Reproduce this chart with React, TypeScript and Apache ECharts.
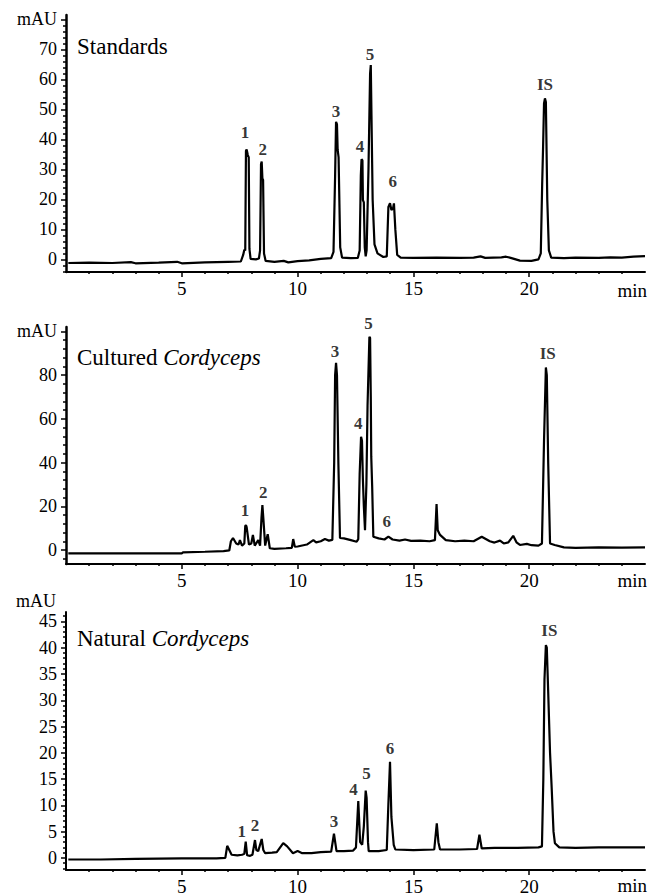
import React, { useEffect, useRef } from "react";
import * as echarts from "echarts";

// ---------- data ----------
const xMajorTicks = [5, 10, 15, 20];
const xMinorTicks = [1, 2, 3, 4, 6, 7, 8, 9, 11, 12, 13, 14, 16, 17, 18, 19, 21, 22, 23, 24];

const panelTitles = ["Standards", "Cultured", "Natural"];
const panelTitleItalic = ["", "Cordyceps", "Cordyceps"];

const stdYTicks = [0, 10, 20, 30, 40, 50, 60, 70, 80];
const stdYMinor = [-4, -2, 2, 4, 6, 8, 12, 14, 16, 18, 22, 24, 26, 28, 32, 34, 36, 38, 42, 44, 46, 48, 52, 54, 56, 58, 62, 64, 66, 68, 72, 74, 76, 78];
const culYTicks = [0, 20, 40, 60, 80, 100];
const culYMinor = [-4, 4, 8, 12, 16, 24, 28, 32, 36, 44, 48, 52, 56, 64, 68, 72, 76, 84, 88, 92, 96];
const natYTicks = [0, 5, 10, 15, 20, 25, 30, 35, 40, 45];
const natYMinor = [-2, -1, 1, 2, 3, 4, 6, 7, 8, 9, 11, 12, 13, 14, 16, 17, 18, 19, 21, 22, 23, 24, 26, 27, 28, 29, 31, 32, 33, 34, 36, 37, 38, 39, 41, 42, 43, 44, 46];

const stdTrace = [
  [0.1, -1.2], [1.0, -1.1], [2.0, -1.2], [2.8, -0.9], [3.0, -1.3], [4.0, -1.1], [4.8, -0.8], [5.0, -1.3],
  [6.0, -1.0], [7.0, -0.8], [7.55, -0.7], [7.65, 1.5], [7.7, 3.2], [7.74, 3.0], [7.77, 36.2], [7.8, 36.7],
  [7.85, 34.8], [7.89, 34.0], [7.92, 3.5], [7.97, 0.2], [8.2, 0.0], [8.33, 0.3], [8.38, 3.0], [8.42, 31.8],
  [8.45, 32.6], [8.48, 27.0], [8.51, 26.5], [8.55, 2.0], [8.62, -0.5], [9.0, -0.8], [9.4, -0.5], [9.6, -1.0],
  [10.0, -0.6], [10.5, -0.3], [11.0, 0.2], [11.45, 0.4], [11.55, 2.5], [11.62, 28.0], [11.66, 45.9], [11.7, 45.0],
  [11.73, 36.5], [11.77, 34.0], [11.84, 4.0], [11.92, 0.6], [12.3, 0.4], [12.6, 0.5], [12.68, 3.0], [12.73, 28.0],
  [12.76, 33.4], [12.8, 33.0], [12.82, 19.8], [12.86, 19.0], [12.9, 4.0], [12.94, 1.0], [12.98, 3.0], [13.06, 30.0],
  [13.13, 62.0], [13.16, 64.8], [13.19, 48.0], [13.24, 20.0], [13.32, 5.0], [13.45, 2.0], [13.7, 0.8], [13.85, 1.0],
  [13.92, 17.5], [13.99, 18.7], [14.05, 16.5], [14.12, 17.0], [14.16, 18.7], [14.22, 10.0], [14.3, 1.5], [14.45, 0.6],
  [15.0, 0.5], [16.0, 0.6], [17.0, 0.5], [17.6, 0.6], [17.9, 1.0], [18.1, 0.5], [18.8, 0.7], [19.0, 0.9],
  [19.2, 0.5], [19.6, -0.4], [20.1, -0.5], [20.4, 0.0], [20.5, 2.0], [20.56, 25.0], [20.6, 37.6], [20.64, 52.0],
  [20.68, 53.7], [20.72, 52.5], [20.78, 20.0], [20.85, 3.0], [20.95, 0.6], [21.5, 0.4], [22.0, 0.6], [23.0, 0.5],
  [23.5, 0.7], [24.0, 0.6], [24.5, 0.9], [25.0, 1.1],
];

const culTrace = [
  [0.1, -1.5], [1.5, -1.5], [3.0, -1.5], [5.0, -1.5], [5.05, -1.1], [6.0, -0.8], [6.8, -0.5], [7.05, -0.2],
  [7.12, 4.0], [7.21, 5.5], [7.35, 3.0], [7.45, 2.5], [7.51, 4.5], [7.6, 2.0], [7.7, 3.0], [7.74, 11.0],
  [7.77, 11.4], [7.8, 10.5], [7.9, 2.5], [8.0, 3.0], [8.07, 6.9], [8.15, 2.0], [8.3, 4.5], [8.38, 2.0],
  [8.44, 14.6], [8.48, 20.6], [8.52, 14.6], [8.6, 2.0], [8.66, 5.0], [8.71, 7.2], [8.8, 0.8], [9.0, 0.5],
  [9.5, 0.8], [9.75, 1.0], [9.81, 5.0], [9.88, 1.5], [10.0, 1.6], [10.4, 2.5], [10.68, 4.5], [10.8, 3.5],
  [11.0, 4.0], [11.18, 5.0], [11.35, 4.3], [11.5, 4.6], [11.58, 40.0], [11.62, 80.0], [11.66, 85.6], [11.7, 80.0],
  [11.76, 40.0], [11.83, 5.5], [12.0, 5.3], [12.3, 4.5], [12.55, 3.8], [12.62, 5.0], [12.68, 35.0], [12.74, 51.8],
  [12.78, 50.0], [12.82, 32.0], [12.86, 20.0], [12.91, 9.1], [12.97, 30.0], [13.02, 66.0], [13.1, 97.5], [13.13, 97.0],
  [13.16, 70.0], [13.18, 42.7], [13.22, 29.0], [13.27, 6.1], [13.5, 5.3], [13.75, 4.8], [13.92, 6.1], [14.1, 4.8],
  [14.4, 4.3], [14.64, 4.8], [14.9, 4.2], [15.3, 4.3], [15.7, 4.0], [15.93, 4.5], [16.0, 21.0], [16.05, 9.0],
  [16.15, 6.9], [16.4, 4.5], [16.8, 4.0], [17.2, 4.3], [17.6, 4.0], [17.95, 6.1], [18.3, 4.0], [18.5, 3.4],
  [18.74, 4.3], [18.9, 3.0], [19.1, 3.5], [19.31, 6.5], [19.45, 3.5], [19.6, 2.3], [19.9, 2.8], [20.1, 2.2],
  [20.4, 2.0], [20.55, 3.0], [20.64, 50.0], [20.72, 83.5], [20.76, 80.0], [20.82, 40.0], [20.9, 3.0], [21.1, 2.3],
  [21.5, 1.2], [22.0, 1.0], [23.0, 1.2], [24.0, 1.1], [25.0, 1.2],
];

const natTrace = [
  [0.1, -0.3], [1.5, -0.3], [3.0, -0.2], [5.0, -0.1], [6.5, -0.1], [6.88, 0.0], [6.96, 2.3], [7.05, 1.5],
  [7.15, 0.6], [7.4, 0.5], [7.6, 0.6], [7.7, 0.8], [7.76, 3.1], [7.82, 0.5], [7.95, 0.4], [8.05, 0.6],
  [8.16, 3.4], [8.22, 1.5], [8.3, 1.3], [8.45, 3.6], [8.52, 1.5], [8.6, 0.9], [8.9, 1.0], [9.1, 1.1],
  [9.38, 2.8], [9.55, 2.2], [9.8, 0.9], [10.0, 1.3], [10.2, 0.9], [10.6, 0.9], [11.0, 1.1], [11.45, 1.2],
  [11.57, 4.6], [11.68, 1.3], [12.0, 1.3], [12.4, 1.4], [12.52, 2.0], [12.62, 10.8], [12.7, 3.0], [12.79, 2.5],
  [12.86, 6.0], [12.94, 12.8], [12.98, 11.4], [13.04, 3.0], [13.07, 1.3], [13.5, 1.3], [13.85, 1.5], [13.92, 10.3],
  [13.99, 18.3], [14.05, 7.8], [14.15, 2.5], [14.22, 1.6], [15.0, 1.5], [15.9, 1.6], [16.01, 6.6], [16.08, 3.0],
  [16.15, 1.6], [17.0, 1.6], [17.75, 1.7], [17.85, 4.4], [17.95, 1.8], [18.5, 1.9], [19.5, 1.9], [20.4, 2.0],
  [20.55, 2.2], [20.61, 15.0], [20.66, 34.0], [20.72, 40.5], [20.76, 40.0], [20.82, 31.6], [20.9, 20.0], [20.97, 13.4],
  [21.05, 5.0], [21.11, 2.8], [21.3, 2.0], [22.0, 1.9], [23.0, 2.0], [24.0, 2.0], [25.0, 2.0],
];

const peakNames = ["1", "2", "3", "4", "5", "6", "IS"];
const stdLabelT = [7.73, 8.49, 11.66, 12.69, 13.13, 14.11, 20.68];
const stdLabelV = [42.2, 36.8, 49.3, 37.6, 68.2, 25.9, 58.2];
const culLabelT = [7.73, 8.52, 11.61, 12.62, 13.06, 13.85, 20.8];
const culLabelV = [18.0, 26.2, 90.7, 57.9, 103.6, 12.9, 89.9];
const natLabelT = [7.59, 8.16, 11.57, 12.41, 12.98, 13.99, 20.87];
const natLabelV = [5.0, 6.1, 6.9, 13.1, 16.1, 20.8, 43.2];

// ---------- layout ----------
const FONT = "Liberation Serif";
const GRID_LEFT = 66;
const GRID_RIGHT = 5;
const panels = [
  { top: 15, height: 257, min: -4.2, max: 81.5, ticks: stdYTicks, minor: stdYMinor, mauValue: 80, trace: stdTrace, lt: stdLabelT, lv: stdLabelV, axisW: 2.5, titleY: 46, minY: 290 },
  { top: 327, height: 237, min: -6.4, max: 102, ticks: culYTicks, minor: culYMinor, mauValue: 100, trace: culTrace, lt: culLabelT, lv: culLabelV, axisW: 2.5, titleY: 357, minY: 580 },
  { top: 612, height: 262, min: -2.3, max: 46.8, ticks: natYTicks, minor: natYMinor, mauValue: null as number | null, trace: natTrace, lt: natLabelT, lv: natLabelV, axisW: 2, titleY: 638, minY: 885 },
];

export default function App() {
  const ref = useRef<HTMLDivElement>(null);
  useEffect(() => {
    document.body.style.margin = "0";
    const chart = echarts.init(ref.current!, null, { renderer: "svg" });
    const grids: any[] = [];
    const xAxes: any[] = [];
    const yAxes: any[] = [];
    const series: any[] = [];
    const graphics: any[] = [];

    panels.forEach((p, i) => {
      grids.push({ left: GRID_LEFT, right: GRID_RIGHT, top: p.top, height: p.height, containLabel: false });
      xAxes.push({
        type: "value", gridIndex: i, min: 0, max: 25,
        axisLine: { show: true, onZero: false, lineStyle: { color: "#000", width: 2 } },
        axisTick: { show: true, customValues: xMajorTicks, length: 5, lineStyle: { color: "#000", width: 1.5 } },
        axisLabel: { show: true, customValues: xMajorTicks, margin: 7, color: "#000", fontFamily: FONT, fontSize: 19 },
        splitLine: { show: false },
      });
      xAxes.push({
        type: "value", gridIndex: i, min: 0, max: 25, position: "bottom",
        axisLine: { show: false, onZero: false },
        axisTick: { show: true, customValues: xMinorTicks, length: 2, lineStyle: { color: "#000", width: 1.5 } },
        axisLabel: { show: false },
        splitLine: { show: false },
      });
      const mau = p.mauValue;
      yAxes.push({
        type: "value", gridIndex: i, min: p.min, max: p.max,
        axisLine: { show: true, onZero: false, lineStyle: { color: "#000", width: p.axisW } },
        axisTick: { show: true, customValues: p.ticks, length: 5, lineStyle: { color: "#000", width: 1.5 } },
        axisLabel: {
          show: true, customValues: p.ticks, margin: 9, color: "#000", fontFamily: FONT, fontSize: 18,
          formatter: (v: number) => (mau !== null && v === mau ? "mAU" : String(v)),
        },
        splitLine: { show: false },
      });
      yAxes.push({
        type: "value", gridIndex: i, min: p.min, max: p.max, position: "left",
        axisLine: { show: false, onZero: false },
        axisTick: { show: true, customValues: p.minor, length: 3, lineStyle: { color: "#000", width: 1.5 } },
        axisLabel: { show: false },
        splitLine: { show: false },
      });
      series.push({
        type: "line", xAxisIndex: i * 2, yAxisIndex: i * 2, data: p.trace,
        showSymbol: false, symbol: "none", silent: true,
        lineStyle: { color: "#000", width: 2.2 },
      });
      series.push({
        type: "scatter", xAxisIndex: i * 2, yAxisIndex: i * 2, clip: false, silent: true,
        symbolSize: 0,
        data: peakNames.map((n, k) => [p.lt[k], p.lv[k], n]),
        label: {
          show: true, position: "inside", color: "#000", fontFamily: FONT, fontWeight: "bold", fontSize: 17,
          formatter: (prm: any) => prm.value[2],
        },
      });
      graphics.push({
        type: "text", x: 77, y: p.titleY,
        style: {
          text: panelTitleItalic[i] ? `${panelTitles[i]} {it|${panelTitleItalic[i]}}` : panelTitles[i],
          fontFamily: FONT, fontSize: 23, fill: "#000", verticalAlign: "middle", align: "left",
          rich: { it: { fontStyle: "italic", fontSize: 23, fontFamily: FONT, fill: "#000" } },
        },
      });
      graphics.push({
        type: "text", x: 647, y: p.minY,
        style: { text: "min", fontFamily: FONT, fontSize: 19, fill: "#000", align: "right", verticalAlign: "middle" },
      });
    });
    graphics.push({
      type: "text", x: 56, y: 601,
      style: { text: "mAU", fontFamily: FONT, fontSize: 18, fill: "#000", align: "right", verticalAlign: "middle" },
    });

    chart.setOption({
      animation: false,
      backgroundColor: "#fff",
      grid: grids,
      xAxis: xAxes,
      yAxis: yAxes,
      series,
      graphic: graphics,
    });
    return () => chart.dispose();
  }, []);
  return <div ref={ref} style={{ width: 650, height: 896 }} />;
}
